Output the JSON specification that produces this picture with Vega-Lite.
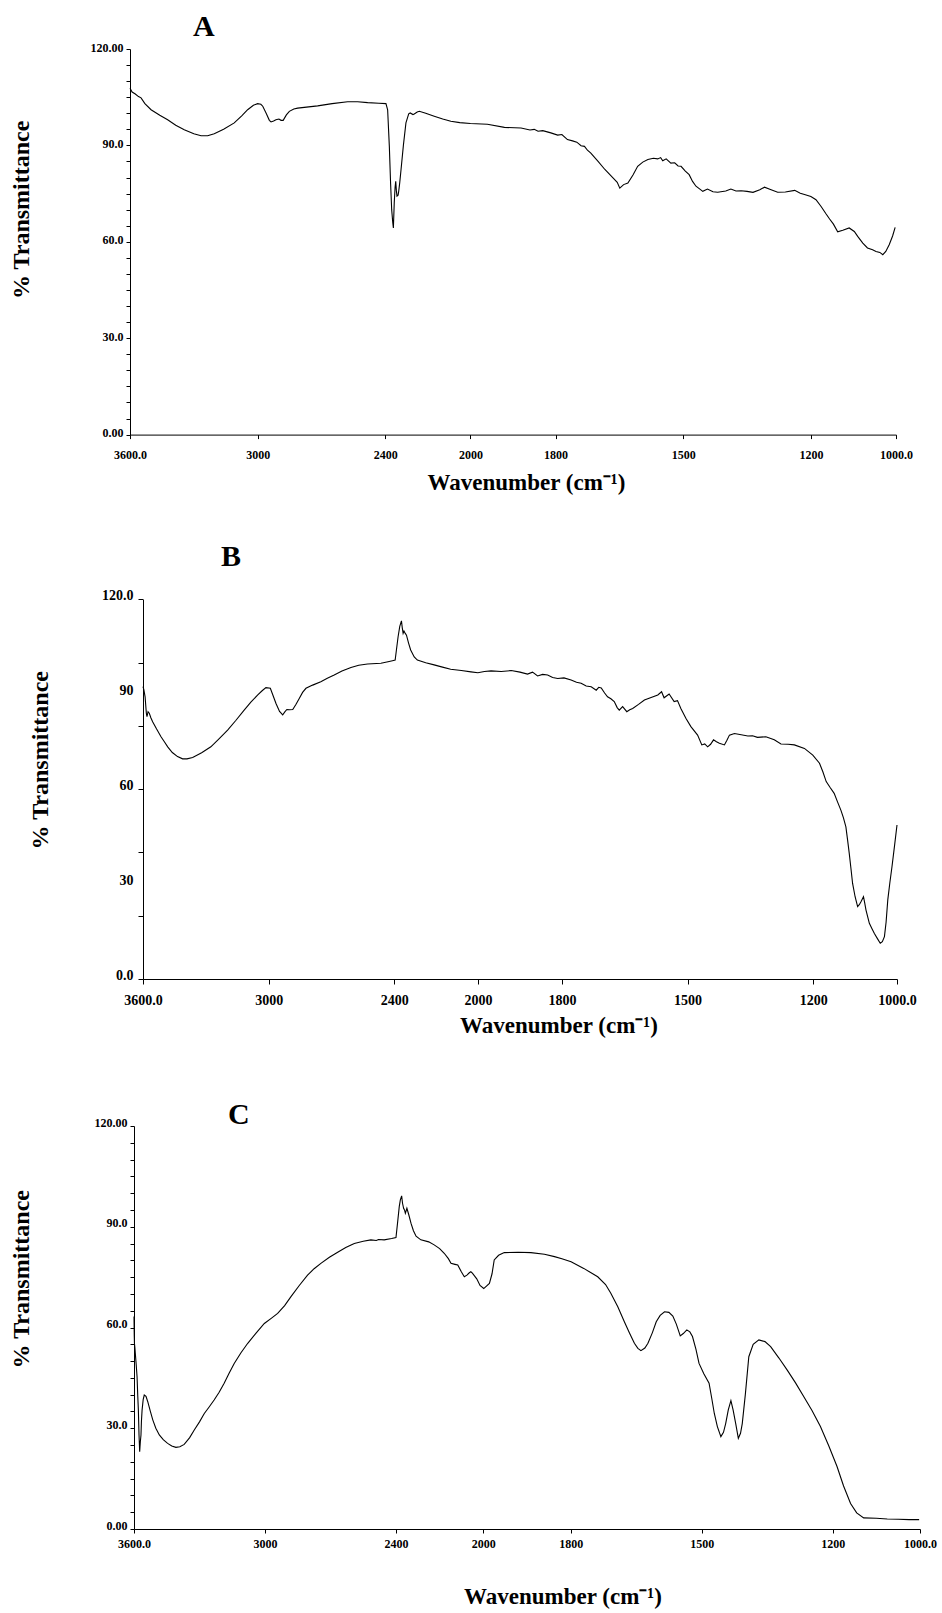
{
  "$schema": "https://vega.github.io/schema/vega-lite/v6.json",
  "padding": {"left": 9, "top": 12, "right": 2, "bottom": 2},
  "background": "white",
  "bounds": "flush",
  "spacing": 147,
  "config": {
    "view": {"stroke": null},
    "font": "Liberation Serif",
    "axis": {"grid": false, "domainColor": "black", "tickColor": "black", "labelColor": "black", "titleColor": "black", "labelFont": "Liberation Serif", "titleFont": "Liberation Serif", "labelFontWeight": "bold", "titleFontWeight": "bold", "labelOverlap": false, "labelBound": false, "labelFlush": false, "domainWidth": 1, "tickWidth": 1}
  },
  "datasets": {
    "a": [
      {"w":3600,"t":107.8},{"w":3590,"t":106.6},{"w":3575,"t":106.0},{"w":3560,"t":105.2},{"w":3548,"t":104.8},{"w":3530,"t":103.0},{"w":3501,"t":101.1},{"w":3460,"t":99.4},{"w":3423,"t":98.0},{"w":3385,"t":96.3},{"w":3345,"t":94.9},{"w":3300,"t":93.6},{"w":3266,"t":93.0},{"w":3235,"t":93.0},{"w":3204,"t":93.6},{"w":3160,"t":95.0},{"w":3110,"t":97.0},{"w":3075,"t":99.2},{"w":3047,"t":101.1},{"w":3020,"t":102.5},{"w":3000,"t":103.0},{"w":2985,"t":102.8},{"w":2976,"t":102.2},{"w":2960,"t":100.0},{"w":2945,"t":97.8},{"w":2937,"t":97.3},{"w":2925,"t":97.6},{"w":2914,"t":98.0},{"w":2900,"t":98.2},{"w":2890,"t":97.8},{"w":2880,"t":97.8},{"w":2865,"t":99.5},{"w":2851,"t":100.6},{"w":2830,"t":101.3},{"w":2812,"t":101.6},{"w":2760,"t":102.0},{"w":2718,"t":102.3},{"w":2650,"t":103.0},{"w":2577,"t":103.6},{"w":2530,"t":103.6},{"w":2483,"t":103.3},{"w":2430,"t":103.1},{"w":2397,"t":103.0},{"w":2389,"t":101.1},{"w":2381,"t":89.7},{"w":2375,"t":78.0},{"w":2370,"t":70.0},{"w":2365,"t":66.0},{"w":2362,"t":64.3},{"w":2358,"t":72.1},{"w":2354,"t":77.0},{"w":2351,"t":78.8},{"w":2348,"t":76.0},{"w":2345,"t":74.2},{"w":2340,"t":74.5},{"w":2337,"t":75.7},{"w":2332,"t":78.5},{"w":2326,"t":82.5},{"w":2315,"t":90.0},{"w":2303,"t":97.0},{"w":2290,"t":99.8},{"w":2283,"t":100.1},{"w":2270,"t":99.6},{"w":2264,"t":99.8},{"w":2250,"t":100.4},{"w":2240,"t":100.6},{"w":2210,"t":100.0},{"w":2170,"t":99.1},{"w":2130,"t":98.2},{"w":2092,"t":97.5},{"w":2050,"t":97.1},{"w":2000,"t":96.8},
      {"w":1960,"t":96.6},{"w":1920,"t":95.6},{"w":1881,"t":95.4},{"w":1860,"t":94.8},{"w":1850,"t":95.0},{"w":1841,"t":94.4},{"w":1830,"t":94.6},{"w":1811,"t":93.9},{"w":1795,"t":93.2},{"w":1785,"t":93.4},{"w":1772,"t":91.8},{"w":1760,"t":91.4},{"w":1750,"t":91.0},{"w":1740,"t":89.9},{"w":1732,"t":89.7},{"w":1725,"t":88.5},{"w":1717,"t":87.6},{"w":1700,"t":85.0},{"w":1684,"t":82.5},{"w":1665,"t":79.9},{"w":1655,"t":78.5},{"w":1649,"t":76.7},{"w":1640,"t":77.8},{"w":1630,"t":78.3},{"w":1618,"t":80.8},{"w":1607,"t":83.5},{"w":1595,"t":84.8},{"w":1583,"t":85.6},{"w":1570,"t":86.0},{"w":1560,"t":85.8},{"w":1553,"t":86.2},{"w":1548,"t":85.2},{"w":1540,"t":85.8},{"w":1529,"t":84.5},{"w":1520,"t":84.6},{"w":1512,"t":83.6},{"w":1505,"t":83.5},{"w":1495,"t":82.0},{"w":1486,"t":80.9},{"w":1478,"t":78.8},{"w":1470,"t":77.3},{"w":1460,"t":76.3},{"w":1454,"t":75.7},{"w":1443,"t":76.4},{"w":1430,"t":75.6},{"w":1419,"t":75.4},{"w":1400,"t":75.8},{"w":1388,"t":76.4},{"w":1376,"t":75.8},{"w":1364,"t":75.9},{"w":1350,"t":75.7},{"w":1336,"t":75.4},{"w":1320,"t":76.2},{"w":1309,"t":77.0},{"w":1295,"t":76.3},{"w":1278,"t":75.4},{"w":1260,"t":75.5},{"w":1238,"t":76.0},{"w":1225,"t":75.1},{"w":1215,"t":74.7},{"w":1200,"t":74.1},{"w":1188,"t":73.1},{"w":1176,"t":71.0},{"w":1165,"t":68.8},{"w":1156,"t":67.1},{"w":1147,"t":65.5},{"w":1137,"t":63.1},{"w":1125,"t":63.6},{"w":1110,"t":64.3},{"w":1098,"t":63.2},{"w":1090,"t":61.7},{"w":1078,"t":59.6},{"w":1067,"t":58.1},{"w":1055,"t":57.5},{"w":1047,"t":57.0},{"w":1038,"t":56.7},{"w":1031,"t":56.0},{"w":1024,"t":57.0},{"w":1016,"t":59.1},{"w":1008,"t":61.8},{"w":1002,"t":64.5}
    ],
    "b": [
      {"w":3600,"t":92.4},{"w":3596,"t":91.5},{"w":3590,"t":89.2},{"w":3584,"t":84.0},{"w":3581,"t":82.9},{"w":3576,"t":84.5},{"w":3570,"t":84.0},{"w":3562,"t":82.5},{"w":3554,"t":81.3},{"w":3535,"t":79.0},{"w":3514,"t":76.6},{"w":3498,"t":75.0},{"w":3482,"t":73.4},{"w":3460,"t":71.6},{"w":3435,"t":70.3},{"w":3411,"t":69.6},{"w":3390,"t":69.6},{"w":3363,"t":70.0},{"w":3320,"t":71.5},{"w":3276,"t":73.4},{"w":3236,"t":76.0},{"w":3196,"t":78.7},{"w":3156,"t":81.8},{"w":3117,"t":85.0},{"w":3085,"t":87.5},{"w":3052,"t":89.8},{"w":3030,"t":91.2},{"w":3013,"t":92.1},{"w":2992,"t":91.9},{"w":2980,"t":89.8},{"w":2965,"t":87.1},{"w":2948,"t":84.6},{"w":2933,"t":83.5},{"w":2922,"t":84.5},{"w":2913,"t":85.2},{"w":2900,"t":85.1},{"w":2885,"t":85.2},{"w":2870,"t":86.8},{"w":2854,"t":88.7},{"w":2838,"t":90.6},{"w":2822,"t":91.9},{"w":2790,"t":92.9},{"w":2751,"t":94.0},{"w":2720,"t":95.1},{"w":2687,"t":96.1},{"w":2650,"t":97.4},{"w":2607,"t":98.5},{"w":2570,"t":99.2},{"w":2528,"t":99.6},{"w":2464,"t":99.8},{"w":2430,"t":100.3},{"w":2409,"t":100.6},{"w":2396,"t":100.8},{"w":2390,"t":104.0},{"w":2382,"t":108.2},{"w":2374,"t":111.5},{"w":2366,"t":113.2},{"w":2362,"t":111.0},{"w":2358,"t":109.3},{"w":2354,"t":110.0},{"w":2350,"t":109.5},{"w":2342,"t":108.7},{"w":2332,"t":106.2},{"w":2322,"t":104.0},{"w":2305,"t":101.8},{"w":2290,"t":100.8},{"w":2250,"t":100.0},{"w":2210,"t":99.3},{"w":2170,"t":98.6},{"w":2131,"t":97.9},{"w":2080,"t":97.5},{"w":2034,"t":97.1},{"w":2001,"t":96.8},
      {"w":1985,"t":97.2},{"w":1969,"t":97.4},{"w":1945,"t":97.2},{"w":1921,"t":97.5},{"w":1900,"t":97.0},{"w":1882,"t":96.4},{"w":1870,"t":97.0},{"w":1858,"t":95.8},{"w":1846,"t":96.3},{"w":1834,"t":96.1},{"w":1822,"t":95.3},{"w":1810,"t":95.0},{"w":1795,"t":95.2},{"w":1778,"t":94.5},{"w":1765,"t":93.8},{"w":1754,"t":93.5},{"w":1742,"t":92.6},{"w":1730,"t":92.4},{"w":1718,"t":91.3},{"w":1712,"t":92.2},{"w":1706,"t":92.0},{"w":1698,"t":90.4},{"w":1691,"t":89.2},{"w":1683,"t":88.6},{"w":1675,"t":87.7},{"w":1668,"t":85.8},{"w":1663,"t":85.0},{"w":1655,"t":86.1},{"w":1645,"t":84.5},{"w":1638,"t":85.1},{"w":1631,"t":85.5},{"w":1617,"t":86.8},{"w":1603,"t":88.2},{"w":1587,"t":89.0},{"w":1571,"t":89.8},{"w":1562,"t":90.8},{"w":1556,"t":88.9},{"w":1544,"t":90.1},{"w":1532,"t":87.7},{"w":1524,"t":88.0},{"w":1516,"t":85.5},{"w":1504,"t":82.4},{"w":1492,"t":79.8},{"w":1476,"t":77.1},{"w":1466,"t":74.0},{"w":1459,"t":74.3},{"w":1452,"t":73.4},{"w":1445,"t":74.2},{"w":1438,"t":75.6},{"w":1431,"t":75.0},{"w":1424,"t":74.5},{"w":1412,"t":74.0},{"w":1406,"t":75.5},{"w":1400,"t":77.1},{"w":1388,"t":77.6},{"w":1372,"t":77.2},{"w":1356,"t":76.8},{"w":1345,"t":76.9},{"w":1333,"t":76.4},{"w":1313,"t":76.6},{"w":1293,"t":75.6},{"w":1277,"t":74.3},{"w":1260,"t":74.2},{"w":1245,"t":74.0},{"w":1221,"t":72.9},{"w":1201,"t":70.8},{"w":1185,"t":68.2},{"w":1177,"t":65.5},{"w":1169,"t":62.4},{"w":1160,"t":60.6},{"w":1150,"t":58.7},{"w":1142,"t":56.0},{"w":1134,"t":53.4},{"w":1128,"t":51.0},{"w":1122,"t":48.1},{"w":1118,"t":44.0},{"w":1114,"t":39.7},{"w":1110,"t":35.0},{"w":1106,"t":30.2},{"w":1100,"t":26.0},{"w":1094,"t":22.9},{"w":1090,"t":23.5},{"w":1086,"t":24.4},{"w":1080,"t":26.0},{"w":1077,"t":24.0},{"w":1074,"t":21.8},{"w":1066,"t":17.6},{"w":1060,"t":16.0},{"w":1054,"t":14.4},{"w":1046,"t":12.6},{"w":1040,"t":11.3},{"w":1035,"t":11.8},{"w":1030,"t":13.4},{"w":1026,"t":18.0},{"w":1022,"t":25.0},{"w":1017,"t":30.5},{"w":1012,"t":35.5},{"w":1006,"t":42.0},{"w":1000,"t":48.7}
    ],
    "c": [
      {"w":3600,"t":63.3},{"w":3599,"t":58.0},{"w":3598,"t":55.3},{"w":3596,"t":54.0},{"w":3594,"t":52.3},{"w":3590,"t":49.0},{"w":3586,"t":45.4},{"w":3583,"t":40.0},{"w":3580,"t":35.4},{"w":3577,"t":28.0},{"w":3574,"t":23.0},{"w":3571,"t":26.0},{"w":3568,"t":28.0},{"w":3566,"t":32.0},{"w":3563,"t":35.4},{"w":3558,"t":38.5},{"w":3553,"t":39.9},{"w":3545,"t":39.5},{"w":3537,"t":37.9},{"w":3525,"t":35.0},{"w":3514,"t":32.5},{"w":3500,"t":30.0},{"w":3484,"t":28.0},{"w":3466,"t":26.6},{"w":3446,"t":25.5},{"w":3427,"t":24.7},{"w":3408,"t":24.3},{"w":3390,"t":24.5},{"w":3370,"t":25.2},{"w":3345,"t":27.2},{"w":3324,"t":29.5},{"w":3300,"t":31.9},{"w":3278,"t":34.4},{"w":3255,"t":36.4},{"w":3233,"t":38.4},{"w":3210,"t":40.7},{"w":3187,"t":43.4},{"w":3165,"t":46.3},{"w":3141,"t":49.3},{"w":3110,"t":52.5},{"w":3079,"t":55.3},{"w":3040,"t":58.4},{"w":3003,"t":61.2},{"w":2970,"t":62.8},{"w":2942,"t":64.2},{"w":2910,"t":66.5},{"w":2881,"t":69.2},{"w":2843,"t":72.5},{"w":2805,"t":75.6},{"w":2775,"t":77.5},{"w":2744,"t":79.1},{"w":2705,"t":80.9},{"w":2667,"t":82.4},{"w":2630,"t":83.8},{"w":2591,"t":85.0},{"w":2550,"t":85.7},{"w":2515,"t":86.1},{"w":2490,"t":85.9},{"w":2480,"t":86.2},{"w":2454,"t":86.1},{"w":2420,"t":86.5},{"w":2400,"t":86.8},{"w":2393,"t":91.0},{"w":2385,"t":96.0},{"w":2380,"t":98.0},{"w":2374,"t":99.2},{"w":2370,"t":97.0},{"w":2365,"t":95.5},{"w":2361,"t":95.0},{"w":2357,"t":94.0},{"w":2350,"t":95.5},{"w":2341,"t":93.5},{"w":2331,"t":91.0},{"w":2320,"t":88.8},{"w":2308,"t":87.2},{"w":2286,"t":86.1},{"w":2250,"t":85.5},{"w":2225,"t":84.6},{"w":2200,"t":83.5},{"w":2179,"t":82.1},{"w":2160,"t":80.5},{"w":2148,"t":79.1},{"w":2130,"t":78.8},{"w":2117,"t":78.6},{"w":2100,"t":76.5},{"w":2087,"t":75.1},{"w":2075,"t":75.6},{"w":2064,"t":76.3},{"w":2057,"t":76.6},{"w":2050,"t":76.2},{"w":2030,"t":74.5},{"w":2015,"t":72.5},{"w":1999,"t":71.6},{"w":1986,"t":73.1},{"w":1980,"t":76.0},{"w":1975,"t":80.1},{"w":1965,"t":81.5},{"w":1952,"t":82.3},{"w":1920,"t":82.4},{"w":1891,"t":82.3},{"w":1860,"t":81.8},{"w":1837,"t":81.1},{"w":1820,"t":80.5},{"w":1799,"t":79.6},{"w":1770,"t":77.6},{"w":1738,"t":75.1},{"w":1720,"t":72.8},{"w":1708,"t":70.2},{"w":1692,"t":66.2},{"w":1677,"t":61.7},{"w":1665,"t":58.3},{"w":1654,"t":55.3},{"w":1646,"t":53.8},{"w":1639,"t":53.1},{"w":1630,"t":53.9},{"w":1623,"t":55.3},{"w":1613,"t":58.4},{"w":1604,"t":61.7},{"w":1595,"t":63.6},{"w":1585,"t":64.7},{"w":1575,"t":64.5},{"w":1566,"t":63.4},{"w":1558,"t":61.0},{"w":1549,"t":57.5},{"w":1542,"t":58.2},{"w":1534,"t":59.3},{"w":1527,"t":58.7},{"w":1521,"t":57.3},{"w":1513,"t":53.5},{"w":1506,"t":49.3},{"w":1495,"t":46.2},{"w":1483,"t":43.4},{"w":1477,"t":39.0},{"w":1471,"t":34.4},{"w":1464,"t":30.5},{"w":1456,"t":27.5},{"w":1450,"t":28.8},{"w":1445,"t":31.4},{"w":1439,"t":35.5},{"w":1433,"t":38.2},{"w":1428,"t":35.5},{"w":1422,"t":31.4},{"w":1416,"t":27.0},{"w":1411,"t":28.5},{"w":1407,"t":31.4},{"w":1400,"t":40.0},{"w":1392,"t":51.3},{"w":1382,"t":55.0},{"w":1369,"t":56.3},{"w":1355,"t":55.8},{"w":1342,"t":54.3},{"w":1323,"t":50.9},{"w":1304,"t":47.3},{"w":1285,"t":43.5},{"w":1266,"t":39.4},{"w":1247,"t":35.2},{"w":1228,"t":30.5},{"w":1209,"t":24.8},{"w":1190,"t":18.6},{"w":1175,"t":12.8},{"w":1159,"t":7.6},{"w":1145,"t":4.8},{"w":1129,"t":3.3},{"w":1100,"t":3.2},{"w":1075,"t":3.0},{"w":1050,"t":2.9},{"w":1025,"t":2.8},{"w":1002,"t":2.8}
    ]
  },
  "vconcat": [
    {
      "width": 766,
      "height": 385.6,
      "title": {"text": "A", "anchor": "start", "frame": "group", "font": "Liberation Serif", "fontSize": 30, "fontWeight": "bold", "color": "black", "baseline": "alphabetic", "offset": -25, "dx": 63},
      "data": {"name": "a"},
      "mark": {"type": "line", "color": "black", "strokeWidth": 1.1},
      "encoding": {
        "x": {"field": "w", "type": "quantitative",
          "scale": {"domain": [3600, 2000, 1000], "range": [0, 340.4, 766], "nice": false, "zero": false},
          "axis": {"values": [3600, 3000, 2400, 2000, 1800, 1500, 1200, 1000],
            "labelExpr": "datum.value==3600?'3600.0':datum.value==1000?'1000.0':format(datum.value,'d')",
            "labelFontSize": 12, "tickSize": 4, "labelPadding": 11,
            "title": "Wavenumber (cm⁻¹)", "titleFontSize": 23, "titleX": 396, "titleY": 47.7, "titleBaseline": "middle", "titleAlign": "center"}},
        "y": {"field": "t", "type": "quantitative",
          "scale": {"domain": [0, 120], "nice": false, "zero": false},
          "axis": {"values": [0,5,10,15,20,25,30,35,40,45,50,55,60,65,70,75,80,85,90,95,100,105,110,115,120],
            "labelExpr": "datum.value%30==0 ? (datum.value==0?'0.00':datum.value==120?'120.00':format(datum.value,'.1f')) : ''",
            "labelFontSize": 12, "tickSize": 4, "labelPadding": 3, "labelOffset": -2,
            "title": "%  Transmittance", "titleFontSize": 24, "titleX": -109, "titleY": 160.3, "titleAngle": -90, "titleBaseline": "middle", "titleAlign": "center"}}
      }
    },
    {
      "width": 767,
      "height": 397,
      "title": {"text": "B", "anchor": "start", "frame": "group", "font": "Liberation Serif", "fontSize": 30, "fontWeight": "bold", "color": "black", "baseline": "alphabetic", "offset": -14, "dx": 91},
      "data": {"name": "b"},
      "mark": {"type": "line", "color": "black", "strokeWidth": 1.1},
      "encoding": {
        "x": {"field": "w", "type": "quantitative",
          "scale": {"domain": [3600, 2000, 1000], "range": [13, 348.1, 767], "nice": false, "zero": false},
          "axis": {"values": [3600, 3000, 2400, 2000, 1800, 1500, 1200, 1000],
            "labelExpr": "datum.value==3600?'3600.0':datum.value==1000?'1000.0':format(datum.value,'d')",
            "labelFontSize": 14, "tickSize": 5, "labelPadding": 9,
            "title": "Wavenumber (cm⁻¹)", "titleFontSize": 23, "titleX": 428.5, "titleY": 46.7, "titleBaseline": "middle", "titleAlign": "center"}},
        "y": {"field": "t", "type": "quantitative",
          "scale": {"domain": [0, 120], "range": [397, 17.4], "nice": false, "zero": false},
          "axis": {"values": [0, 20, 30, 40, 60, 80, 90, 100, 120], "offset": -13,
            "tickOpacity": {"condition": {"test": "datum.value % 20 != 0", "value": 0}, "value": 1},
            "labelExpr": "datum.value%30==0 ? (datum.value==0?'0.0':datum.value==120?'120.0':format(datum.value,'d')) : ''",
            "labelFontSize": 14, "tickSize": 5, "labelPadding": 5, "labelOffset": -4,
            "title": "%  Transmittance", "titleFontSize": 24, "titleX": -103, "titleY": 177.7, "titleAngle": -90, "titleBaseline": "middle", "titleAlign": "center"}}
      }
    },
    {
      "width": 790,
      "height": 403,
      "title": {"text": "C", "anchor": "start", "frame": "group", "font": "Liberation Serif", "fontSize": 30, "fontWeight": "bold", "color": "black", "baseline": "alphabetic", "offset": -38, "dx": 98},
      "data": {"name": "c"},
      "mark": {"type": "line", "color": "black", "strokeWidth": 1.1},
      "encoding": {
        "x": {"field": "w", "type": "quantitative",
          "scale": {"domain": [3600, 2000, 1000], "range": [4, 353.3, 790], "nice": false, "zero": false},
          "axis": {"values": [3600, 3000, 2400, 2000, 1800, 1500, 1200, 1000],
            "labelExpr": "datum.value==3600?'3600.0':datum.value==1000?'1000.0':format(datum.value,'d')",
            "labelFontSize": 12, "tickSize": 4, "labelPadding": 5,
            "title": "Wavenumber (cm⁻¹)", "titleFontSize": 23, "titleX": 432.5, "titleY": 67, "titleBaseline": "middle", "titleAlign": "center"}},
        "y": {"field": "t", "type": "quantitative",
          "scale": {"domain": [0, 120], "nice": false, "zero": false},
          "axis": {"values": [0,5,10,15,20,25,30,35,40,45,50,55,60,65,70,75,80,85,90,95,100,105,110,115,120], "offset": -4,
            "labelExpr": "datum.value%30==0 ? (datum.value==0?'0.00':datum.value==120?'120.00':format(datum.value,'.1f')) : ''",
            "labelFontSize": 12, "tickSize": 4, "labelPadding": 3, "labelOffset": -4,
            "title": "%  Transmittance", "titleFontSize": 24, "titleX": -112.7, "titleY": 152.7, "titleAngle": -90, "titleBaseline": "middle", "titleAlign": "center"}}
      }
    }
  ]
}
